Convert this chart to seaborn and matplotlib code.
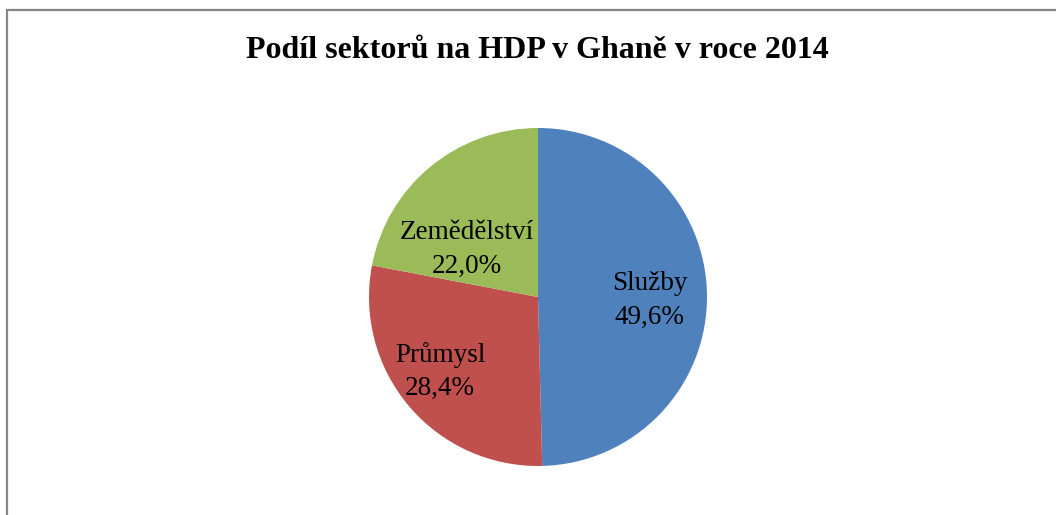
import numpy as np
import matplotlib
matplotlib.use("Agg")
import matplotlib.pyplot as plt
import seaborn as sns
from matplotlib.patches import Rectangle

# Data
sektory = ["Služby", "Průmysl", "Zemědělství"]
podily = [49.6, 28.4, 22.0]
barvy = ["#4F81BD", "#C0504D", "#9BBB59"]
titulek = "Podíl sektorů na HDP v Ghaně v roce 2014"

# label placement inside the pie (data coords, radius = 1)
pozice_popisku = [(0.66, -0.02), (-0.58, -0.44), (-0.42, 0.28)]

sns.set_theme(style="white")
plt.rcParams["font.family"] = ["Liberation Serif", "DejaVu Serif"]

fig = plt.figure(figsize=(10.56, 5.15), dpi=100)

# frame of the chart area (right and bottom edges are cut off)
fig.patches.append(Rectangle((7 / 1056, -0.1), 1.2, 1 - 10 / 515 + 0.1,
                             transform=fig.transFigure, fill=False,
                             edgecolor="#868686", linewidth=1.6))

ax = fig.add_axes([(538 - 169) / 1056, 1 - 466 / 515, 338 / 1056, 338 / 515])
ax.pie(podily, colors=barvy, startangle=90, counterclock=False, radius=1,
       wedgeprops=dict(linewidth=0))
ax.set_xlim(-1, 1)
ax.set_ylim(-1, 1)
ax.set_aspect("equal")
ax.axis("off")

for nazev, hodnota, (x, y) in zip(sektory, podily, pozice_popisku):
    txt = f"{nazev}\n{hodnota:.1f}%".replace(".", ",")
    ax.text(x, y, txt, ha="center", va="center", fontsize=19.5,
            color="black", linespacing=1.45)

fig.text(0.509, 1 - 51 / 515, titulek, ha="center", va="center",
         fontsize=23, fontweight="bold", color="black")

fig.savefig("out.png", dpi=100)
